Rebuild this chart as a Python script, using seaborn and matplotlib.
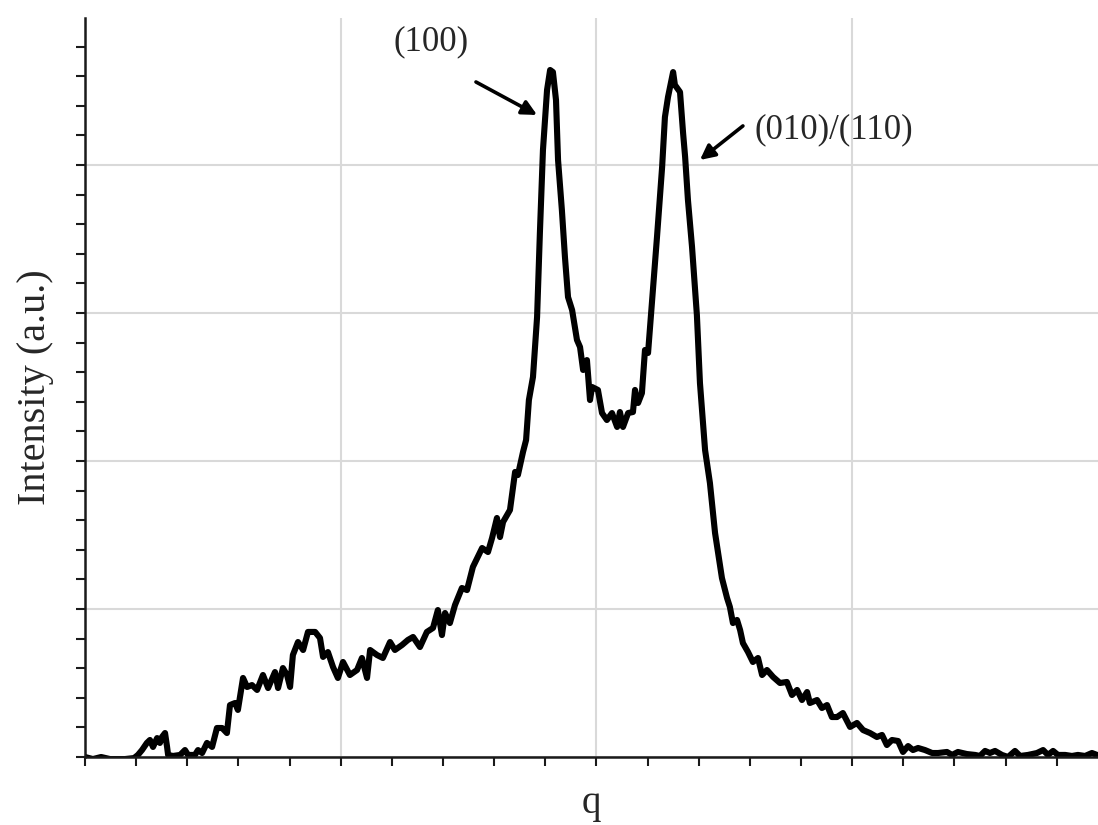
import matplotlib
matplotlib.use("Agg")
import matplotlib.pyplot as plt
from matplotlib.ticker import MultipleLocator, NullFormatter
import seaborn as sns
import pandas as pd

# ---- data (arbitrary units) ----
q = [0.000, 0.031, 0.063, 0.098, 0.156, 0.192, 0.207, 0.223, 0.242, 0.254,
     0.266, 0.282, 0.293, 0.301, 0.313, 0.321, 0.325, 0.344, 0.372, 0.391,
     0.403, 0.430, 0.442, 0.458, 0.477, 0.497, 0.516, 0.536, 0.555, 0.567,
     0.587, 0.598, 0.618, 0.634, 0.653, 0.673, 0.696, 0.716, 0.743, 0.755,
     0.774, 0.790, 0.802, 0.813, 0.833, 0.853, 0.872, 0.900, 0.919, 0.931,
     0.950, 0.970, 0.989, 1.009, 1.036, 1.064, 1.083, 1.103, 1.115, 1.142,
     1.165, 1.193, 1.212, 1.240, 1.263, 1.283, 1.310, 1.337, 1.361, 1.380,
     1.396, 1.408, 1.427, 1.447, 1.474, 1.494, 1.517, 1.553, 1.576, 1.592,
     1.611, 1.623, 1.635, 1.662, 1.682, 1.693, 1.713, 1.725, 1.736, 1.752,
     1.768, 1.779, 1.791, 1.807, 1.819, 1.830, 1.842, 1.850, 1.865, 1.877,
     1.889, 1.905, 1.924, 1.936, 1.948, 1.963, 1.975, 1.983, 2.006, 2.022,
     2.041, 2.061, 2.081, 2.092, 2.104, 2.124, 2.143, 2.151, 2.163, 2.178,
     2.190, 2.202, 2.217, 2.237, 2.257, 2.268, 2.280, 2.300, 2.307, 2.327,
     2.339, 2.347, 2.358, 2.374, 2.393, 2.405, 2.425, 2.444, 2.464, 2.491,
     2.511, 2.522, 2.534, 2.550, 2.562, 2.573, 2.593, 2.612, 2.632, 2.648,
     2.667, 2.691, 2.718, 2.745, 2.765, 2.785, 2.804, 2.824, 2.835, 2.863,
     2.882, 2.902, 2.921, 2.941, 2.964, 2.992, 3.019, 3.043, 3.070, 3.097,
     3.117, 3.136, 3.156, 3.180, 3.199, 3.219, 3.238, 3.258, 3.285, 3.313,
     3.336, 3.371, 3.391, 3.414, 3.449, 3.481, 3.500, 3.520, 3.539, 3.559,
     3.586, 3.610, 3.637, 3.657, 3.688, 3.723, 3.747, 3.766, 3.786, 3.805,
     3.833, 3.860, 3.883, 3.911, 3.938, 3.958]

intensity = [0.000, -0.014, 0.000, -0.014, -0.014, -0.007, 0.014, 0.047, 0.095, 0.115,
             0.068, 0.128, 0.095, 0.135, 0.162, 0.068, 0.014, 0.007, 0.014, 0.047,
             0.014, 0.014, 0.047, 0.027, 0.095, 0.068, 0.196, 0.196, 0.162, 0.351,
             0.365, 0.318, 0.534, 0.473, 0.486, 0.453, 0.554, 0.466, 0.574, 0.466,
             0.601, 0.554, 0.473, 0.689, 0.777, 0.723, 0.845, 0.845, 0.804, 0.676,
             0.709, 0.608, 0.534, 0.642, 0.554, 0.588, 0.669, 0.534, 0.723, 0.689,
             0.669, 0.777, 0.723, 0.757, 0.791, 0.811, 0.743, 0.845, 0.872, 0.993,
             0.824, 0.973, 0.905, 1.027, 1.142, 1.128, 1.284, 1.412, 1.385, 1.480,
             1.615, 1.486, 1.588, 1.669, 1.926, 1.905, 2.061, 2.142, 2.412, 2.568,
             2.973, 3.541, 4.101, 4.507, 4.642, 4.628, 4.439, 4.034, 3.696, 3.378,
             3.108, 3.020, 2.818, 2.770, 2.615, 2.682, 2.412, 2.500, 2.480, 2.324,
             2.277, 2.324, 2.230, 2.331, 2.230, 2.324, 2.331, 2.480, 2.392, 2.459,
             2.750, 2.730, 3.068, 3.514, 3.986, 4.324, 4.459, 4.628, 4.541, 4.493,
             4.216, 4.054, 3.764, 3.446, 2.986, 2.527, 2.074, 1.851, 1.514, 1.209,
             1.074, 1.014, 0.905, 0.926, 0.858, 0.770, 0.709, 0.642, 0.669, 0.554,
             0.588, 0.541, 0.500, 0.507, 0.419, 0.453, 0.385, 0.439, 0.365, 0.385,
             0.331, 0.351, 0.270, 0.270, 0.297, 0.203, 0.230, 0.182, 0.162, 0.135,
             0.149, 0.081, 0.115, 0.108, 0.034, 0.074, 0.047, 0.061, 0.047, 0.027,
             0.027, 0.034, 0.014, 0.034, 0.020, 0.014, 0.007, 0.041, 0.027, 0.041,
             0.014, 0.000, 0.041, 0.007, 0.014, 0.027, 0.047, 0.014, 0.041, 0.014,
             0.014, 0.007, 0.014, 0.007, 0.027, 0.014]

peak_labels = ["(100)", "(010)/(110)"]
label_pos = [(1.353, 4.831), (2.929, 4.236)]
arrow_tail = [(1.529, 4.561), (2.573, 4.264)]
arrow_head = [(1.768, 4.338), (2.405, 4.034)]

df = pd.DataFrame({"q": q, "Intensity": intensity})

sns.set_theme(style="whitegrid")
plt.rcParams["font.family"] = ["Liberation Serif", "DejaVu Serif"]

fig = plt.figure(figsize=(10.98, 8.25), dpi=100)
ax = fig.add_axes([85 / 1098, 68 / 825, 1013 / 1098, 739 / 825])

sns.lineplot(data=df, x="q", y="Intensity", ax=ax, color="black",
             linewidth=4.4, estimator=None, sort=False,
             solid_joinstyle="round", solid_capstyle="round")

ax.set_xlim(0, 1013 / 255.7)
ax.set_ylim(0, 739 / 148)

ax.xaxis.set_major_locator(MultipleLocator(1.0))
ax.xaxis.set_minor_locator(MultipleLocator(0.2))
ax.yaxis.set_major_locator(MultipleLocator(1.0))
ax.yaxis.set_minor_locator(MultipleLocator(0.2))
ax.xaxis.set_major_formatter(NullFormatter())
ax.yaxis.set_major_formatter(NullFormatter())

ax.grid(True, which="major", color="#d9d9d9", linewidth=1.5)
ax.grid(False, which="minor")
ax.set_axisbelow(True)

for side in ["top", "right"]:
    ax.spines[side].set_visible(False)
for side in ["left", "bottom"]:
    ax.spines[side].set_color("#1a1a1a")
    ax.spines[side].set_linewidth(1.8)

ax.tick_params(axis="both", which="both", direction="out", length=6.5,
               width=1.5, color="#1a1a1a", left=True, bottom=True)

ax.set_xlabel("q", fontsize=28, labelpad=10)
ax.set_ylabel("Intensity (a.u.)", fontsize=29, labelpad=12)

for txt, pos, tail, head in zip(peak_labels, label_pos, arrow_tail, arrow_head):
    ax.text(pos[0], pos[1], txt, fontsize=25, ha="center", va="center")
    ax.annotate("", xy=head, xytext=tail,
                arrowprops=dict(arrowstyle="-|>", color="black", lw=2.6,
                                mutation_scale=22, shrinkA=0, shrinkB=0))

fig.savefig("out.png", dpi=100, facecolor="white")
